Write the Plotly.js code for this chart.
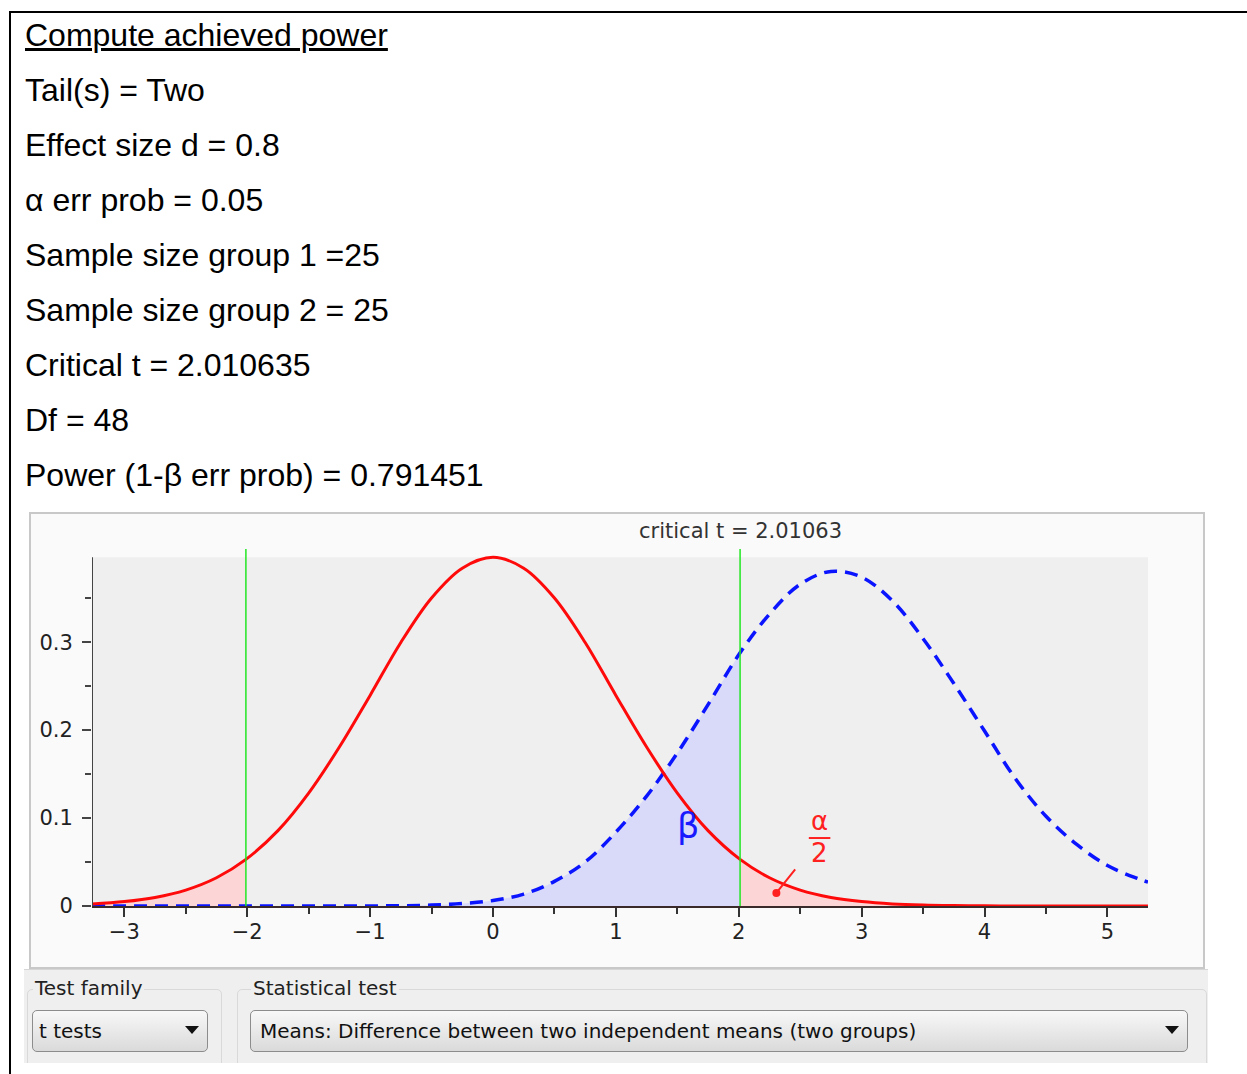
<!DOCTYPE html>
<html>
<head>
<meta charset="utf-8">
<script src="https://cdn.plot.ly/plotly-3.0.1.min.js"></script>
<style>
  html, body { margin:0; padding:0; background:#ffffff; }
  body { width:1247px; height:1074px; position:relative; overflow:hidden; }
  #frame { position:absolute; left:9px; top:11px; width:1240px; height:1070px;
           border-top:2px solid #000; border-left:2px solid #000; }
  .line { position:absolute; left:25px; font-family:'Liberation Sans', Arial, sans-serif;
          font-size:32px; line-height:32px; color:#000; white-space:nowrap; }
  #controls { position:absolute; left:24px; top:969px; width:1184px; height:93px; overflow:hidden;
              background:#efefef; border-top:1px solid #d6d6d6; }
  .group { position:absolute; border:1px solid #d9d9d9; border-radius:5px; }
  .glabel { position:absolute; font-family:'DejaVu Sans', sans-serif; font-size:20px;
            color:#222; background:#efefef; padding:0 2px; line-height:22px; }
  .combo { position:absolute; height:38px; border:1px solid #8c8c8c; border-radius:5px;
           background:linear-gradient(#f8f8f8, #dadada); font-family:'DejaVu Sans', sans-serif;
           font-size:20px; color:#111; line-height:38px; padding-left:6px; box-sizing:border-box; }
  .arrow { position:absolute; top:15px; width:0; height:0; border-left:7px solid transparent;
           border-right:7px solid transparent; border-top:8px solid #111; }
  #chart { position:absolute; left:0; top:500px; width:1247px; height:475px; }
</style>
</head>
<body>
<div id="frame"></div>
<div id="textlines"></div>
<div id="chart"></div>
<div id="controls">
  <div class="group" style="left:3px; top:19px; width:193px; height:90px;"></div>
  <div class="glabel" style="left:9px; top:7px;">Test family</div>
  <div class="combo" style="left:8px; top:40px; width:176px; height:42px; line-height:40px;">t tests<div class="arrow" style="left:152px;"></div></div>
  <div class="group" style="left:213px; top:19px; width:968px; height:90px;"></div>
  <div class="glabel" style="left:227px; top:7px;">Statistical test</div>
  <div class="combo" style="left:226px; top:40px; width:938px; height:42px; line-height:40px; padding-left:9px;">Means: Difference between two independent means (two groups)<div class="arrow" style="left:914px;"></div></div>
</div>
<script>
// ---- Text block ----
const infoLines = [
  "Compute achieved power",
  "Tail(s) = Two",
  "Effect size d = 0.8",
  "α err prob = 0.05",
  "Sample size group 1 =25",
  "Sample size group 2 = 25",
  "Critical t = 2.010635",
  "Df = 48",
  "Power (1-β err prob) = 0.791451"
];

// ---- Chart data ----
const critT = 2.01063;
const xGrid = [-3.263,-3,-2.75,-2.5,-2.25,-2.01063,-1.75,-1.5,-1.25,-1,-0.75,-0.5,-0.25,0,
               0.25,0.5,0.75,1,1.25,1.5,1.75,2.01063,2.25,2.5,2.75,3,3.25,3.5,3.75,4,
               4.25,4.5,4.75,5,5.25,5.33];
const h0Density = [0.0023,0.0050,0.0097,0.0181,0.0321,0.0530,0.0857,0.1284,0.1808,0.2395,0.2997,0.3503,0.3842,0.3966,
                   0.3842,0.3503,0.2997,0.2395,0.1808,0.1284,0.0857,0.0530,0.0321,0.0181,0.0097,0.0050,0.0024,0.0011,0.0005,0.0002,
                   0.0001,0,0,0,0,0];
const h1Density = [0,0,0,0,0,0,0,0,0,0.0001,0.0003,0.0010,0.0028,0.0062,
                   0.0135,0.0280,0.0500,0.0840,0.1250,0.1740,0.2290,0.2880,0.3320,0.3660,0.3805,0.3740,0.3470,0.3040,0.2530,0.1990,
                   0.1450,0.1020,0.0700,0.0460,0.0310,0.0272];
const xTicks = [-3,-2,-1,0,1,2,3,4,5];
const yTicks = [0,0.1,0.2,0.3];
const yMinorTicks = [0.05,0.15,0.25,0.35];
const xRange = [-3.263, 5.33];
const yTop = 0.3966;

// build text lines
const tl = document.getElementById('textlines');
infoLines.forEach((t, i) => {
  const d = document.createElement('div');
  d.className = 'line';
  d.textContent = t;
  d.style.top = (45 + 55 * i - 26) + 'px';
  if (i === 0) d.style.textDecoration = 'underline';
  tl.appendChild(d);
});

function pick(arrX, arrY, test) {
  const xs = [], ys = [];
  arrX.forEach((x, i) => { if (test(x)) { xs.push(x); ys.push(arrY[i]); } });
  return {x: xs, y: ys};
}
const eps = 1e-9;
const betaArea = pick(xGrid, h1Density, x => x <= critT + eps);
const alphaLeft = pick(xGrid, h0Density, x => x <= -critT + eps);
const alphaRight = pick(xGrid, h0Density, x => x >= critT - eps);

const traces = [
  {x: betaArea.x, y: betaArea.y, type:'scatter', mode:'lines', fill:'tozeroy',
   fillcolor:'#d9d9fa', line:{width:0, shape:'spline', smoothing:1}, hoverinfo:'skip'},
  {x: alphaLeft.x, y: alphaLeft.y, type:'scatter', mode:'lines', fill:'tozeroy',
   fillcolor:'#fcd6d6', line:{width:0, shape:'spline', smoothing:1}, hoverinfo:'skip'},
  {x: alphaRight.x, y: alphaRight.y, type:'scatter', mode:'lines', fill:'tozeroy',
   fillcolor:'#fcd6d6', line:{width:0, shape:'spline', smoothing:1}, hoverinfo:'skip'},
  {x: xGrid, y: h1Density, type:'scatter', mode:'lines',
   line:{color:'#0a14ff', width:3.5, dash:'13px,8px', shape:'spline', smoothing:1}},
  {x: xGrid, y: h0Density, type:'scatter', mode:'lines',
   line:{color:'#ff0a0a', width:3, shape:'spline', smoothing:1}}
];

const plotTop = 49, plotH = 357, plotL = 92, plotW = 1056;
function px2paperX(p) { return (p - plotL) / plotW; }
function px2paperY(p) { return (plotTop + plotH - (p - 500)) / plotH; }

const layout = {
  width:1247, height:475,
  margin:{l:plotL, r:1247 - plotL - plotW, t:plotTop, b:475 - plotTop - plotH, pad:0},
  paper_bgcolor:'rgba(0,0,0,0)', plot_bgcolor:'#fafafa',
  showlegend:false,
  font:{family:'DejaVu Sans, sans-serif', size:20, color:'#222'},
  xaxis:{range:xRange, tickmode:'array', tickvals:xTicks, ticktext:xTicks.map(v => v < 0 ? '−' + Math.abs(v) : String(v)),
         ticks:'outside', ticklen:9, tickwidth:2, tickcolor:'#333', showgrid:false, zeroline:false,
         showline:true, linecolor:'#3a2a2a', linewidth:2, ticklabelstandoff:-3,
         minor:{tickmode:'linear', tick0:0.5, dtick:1, ticks:'outside', ticklen:6, tickwidth:2, tickcolor:'#333', showgrid:false},
         tickfont:{family:'DejaVu Sans, sans-serif', size:21, color:'#222'}, fixedrange:true},
  yaxis:{range:[0, 0.406], tickmode:'array', tickvals:yTicks, ticktext:yTicks.map(v => String(v)),
         ticks:'outside', ticklen:9, tickwidth:2, tickcolor:'#444', showgrid:false, zeroline:false,
         showline:false, ticklabelstandoff:5,
         minor:{tickmode:'array', tickvals:yMinorTicks, ticks:'outside', ticklen:6, tickwidth:2, tickcolor:'#444', showgrid:false},
         tickfont:{family:'DejaVu Sans, sans-serif', size:21, color:'#222'}, fixedrange:true},
  shapes:[
    // panel
    {type:'rect', xref:'paper', yref:'paper', layer:'below',
     x0:px2paperX(30), x1:px2paperX(1204), y0:px2paperY(968), y1:px2paperY(513),
     fillcolor:'#fafafa', line:{color:'#c8c8c8', width:2}},
    // gray plotting area
    {type:'rect', xref:'x', yref:'y', layer:'below', x0:xRange[0], x1:xRange[1], y0:0, y1:yTop,
     fillcolor:'#efefef', line:{width:0}},
    // y axis line
    {type:'line', xref:'x', yref:'y', layer:'above', x0:xRange[0], x1:xRange[0], y0:0, y1:yTop,
     line:{color:'#444', width:2}},
    // critical lines
    {type:'line', xref:'x', yref:'y', layer:'above', x0:-critT, x1:-critT, y0:0, y1:0.406,
     line:{color:'#22e622', width:1.5}},
    {type:'line', xref:'x', yref:'y', layer:'above', x0:critT, x1:critT, y0:0, y1:0.406,
     line:{color:'#22e622', width:1.5}},
    // alpha/2 fraction bar
    {type:'line', xref:'x', yref:'y', layer:'above', x0:2.57, x1:2.745, y0:0.0773, y1:0.0773,
     line:{color:'#ff2020', width:2}}
  ],
  annotations:[
    {xref:'x', yref:'paper', x:critT, y:px2paperY(531), text:'critical t = 2.01063', showarrow:false,
     font:{family:'DejaVu Sans, sans-serif', size:21, color:'#333'}, xanchor:'center', yanchor:'middle'},
    {xref:'x', yref:'y', x:1.585, y:0.0905, text:'β', showarrow:false,
     font:{family:'DejaVu Sans, sans-serif', size:35, color:'#1a1aff'}},
    {xref:'x', yref:'y', x:2.657, y:0.0965, text:'α', showarrow:false,
     font:{family:'DejaVu Sans, sans-serif', size:26, color:'#ff2020'}},
    {xref:'x', yref:'y', x:2.657, y:0.060, text:'2', showarrow:false,
     font:{family:'DejaVu Sans, sans-serif', size:26, color:'#ff2020'}},
    {xref:'x', yref:'y', x:2.306, y:0.0148, text:'', showarrow:true, ax:20, ay:-25,
     arrowhead:6, arrowsize:1, arrowwidth:2, arrowcolor:'#ff2020', standoff:0}
  ]
};

Plotly.newPlot('chart', traces, layout, {staticPlot:true, displayModeBar:false});
</script>
</body>
</html>
